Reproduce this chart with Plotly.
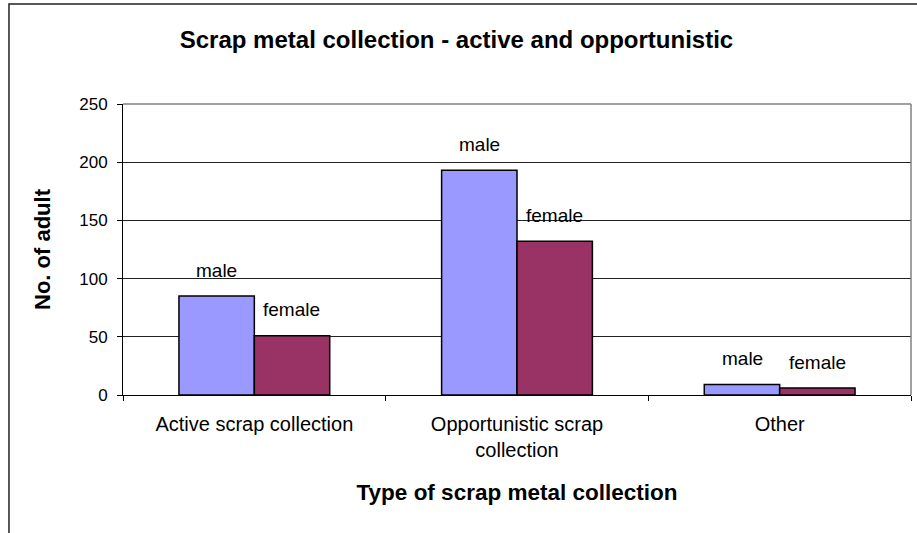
import plotly.graph_objects as go

categories = ["Active scrap collection", "Opportunistic scrap<br>collection", "Other"]
male = [85, 193, 9]
female = [51, 132, 6]
y_ticks = [0, 50, 100, 150, 200, 250]

FONT = "Arial, Liberation Sans, sans-serif"
MALE_COLOR = "#9999FF"
FEMALE_COLOR = "#993366"

fig = go.Figure()
fig.add_trace(go.Bar(name="male", x=categories, y=male,
                     marker=dict(color=MALE_COLOR, line=dict(color="black", width=1.5))))
fig.add_trace(go.Bar(name="female", x=categories, y=female,
                     marker=dict(color=FEMALE_COLOR, line=dict(color="black", width=1.5))))

annotations = []
for cat, m, f in zip(categories, male, female):
    annotations.append(dict(x=cat, y=m, xref="x", yref="y", text="male", showarrow=False,
                            xshift=-37.5, yshift=26, yanchor="middle",
                            font=dict(family=FONT, size=19, color="black")))
    annotations.append(dict(x=cat, y=f, xref="x", yref="y", text="female", showarrow=False,
                            xshift=37.5, yshift=26, yanchor="middle",
                            font=dict(family=FONT, size=19, color="black")))

fig.update_layout(
    width=917, height=533,
    margin=dict(l=123, r=6, t=104, b=138),
    paper_bgcolor="white", plot_bgcolor="white",
    showlegend=False,
    barmode="group", bargap=0.426, bargroupgap=0,
    title=dict(text="<b>Scrap metal collection - active and opportunistic</b>",
               x=0.4978, xanchor="center", y=0.925, yanchor="middle",
               font=dict(family=FONT, size=24, color="black")),
    font=dict(family=FONT, color="black"),
    annotations=annotations,
    shapes=[
        dict(type="rect", xref="paper", yref="paper",
             x0=-0.1447, x1=1.02, y0=-0.5, y1=1.3436,
             line=dict(color="#222222", width=1.5), fillcolor="rgba(0,0,0,0)", layer="below"),
        dict(type="line", xref="paper", yref="paper", x0=0, x1=1, y0=1, y1=1,
             line=dict(color="#808080", width=1.5)),
        dict(type="line", xref="paper", yref="paper", x0=1, x1=1, y0=0, y1=1,
             line=dict(color="#808080", width=1.5)),
    ],
)

fig.update_xaxes(
    type="category",
    showline=True, linecolor="black", linewidth=1,
    ticks="outside", tickson="boundaries", ticklen=5, tickcolor="black",
    tickfont=dict(family=FONT, size=20, color="black"),
    ticklabelstandoff=11,
    showgrid=False,
    title=dict(text="<b>Type of scrap metal collection</b>",
               font=dict(family=FONT, size=22.5, color="black"), standoff=24),
)
fig.update_yaxes(
    range=[0, 250], tickvals=y_ticks, ticktext=[str(v) for v in y_ticks],
    showline=True, linecolor="black", linewidth=1,
    ticks="outside", ticklen=5, tickcolor="black",
    tickfont=dict(family=FONT, size=17, color="black"),
    ticklabelstandoff=6,
    showgrid=True, gridcolor="#222222", gridwidth=1,
    zeroline=False,
    title=dict(text="<b>No. of adult</b>",
               font=dict(family=FONT, size=22, color="black"), standoff=22),
)

fig.write_html("out.html", config={"displayModeBar": False},
               post_script="document.body.style.margin='0';")
